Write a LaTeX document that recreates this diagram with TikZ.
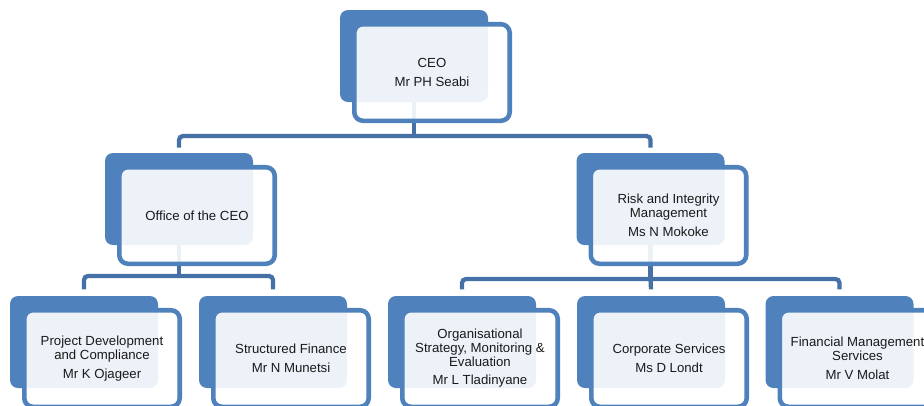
\documentclass[tikz,border=0pt]{standalone}
\usepackage{fontspec}
\setmainfont{Liberation Sans}
\usepackage{xcolor}
\usetikzlibrary{positioning, backgrounds}

\definecolor{boxblue}{HTML}{4F81BD}
\definecolor{linkblue}{HTML}{4571A8}
\definecolor{textgrey}{HTML}{1A1A1A}

\begin{document}
\begin{tikzpicture}[
    x=0.75pt, y=-0.75pt,
    back/.style={rectangle, rounded corners=6pt, fill=boxblue, minimum width=111pt, minimum height=69pt},
    front/.style={rectangle, rounded corners=6.5pt, draw=boxblue, line width=3.4pt, fill=white, fill opacity=0.9, text opacity=1,
                  minimum width=116.6pt, minimum height=72.4pt, align=center, text=textgrey,
                  font=\fontsize{9.9pt}{10.2pt}\selectfont},
    link/.style={draw=linkblue, line width=3.2pt, rounded corners=3pt}
]
    \useasboundingbox (0,0) rectangle (924,405);

    % CEO
    \node[back] (ceoback) at (414,56) {};
    \node[front] (ceo) at ([shift={(18,16.5)}]ceoback.center) {CEO\\[4pt]Mr PH Seabi};

    % Second level
    \node[back] (officeback) at (179,199) {};
    \node[front] (office) at ([shift={(18,16.5)}]officeback.center) {Office of the CEO};

    \node[back] (riskback) at (650.5,199) {};
    \node[front] (risk) at ([shift={(18,16.5)}]riskback.center) {Risk and Integrity\\Management\\[4pt]Ms N Mokoke};

    % Third level
    \node[back] (projback) at (84,342) {};
    \node[front] (proj) at ([shift={(18,16.5)}]projback.center) {Project Development\\and Compliance\\[4pt]Mr K Ojageer};

    \node[back] (sfback) at (273,342) {};
    \node[front] (sf) at ([shift={(18,16.5)}]sfback.center) {Structured Finance\\[4pt]Mr N Munetsi};

    \node[back] (osmeback) at (462,342) {};
    \node[front] (osme) at ([shift={(18,16.5)}]osmeback.center) {Organisational\\Strategy, Monitoring \&\\Evaluation\\[4pt]Mr L Tladinyane};

    \node[back] (corpback) at (651,342) {};
    \node[front] (corp) at ([shift={(18,16.5)}]corpback.center) {Corporate Services\\[4pt]Ms D Londt};

    \node[back] (fmsback) at (839.5,342) {};
    \node[front] (fms) at ([shift={(18,16.5)}]fmsback.center) {Financial Management\\Services\\[4pt]Mr V Molat};

    % Connections
    \coordinate (topbus) at (414,136);
    \coordinate (leftbus) at (179,276);
    \coordinate (rightbus) at (650.5,279);
    \begin{scope}[on background layer]
        \draw[link] (ceoback) -- (topbus);
        \draw[link] ([yshift=3.8pt]officeback.north) |- (topbus) -| ([yshift=3.8pt]riskback.north);
        \draw[link] (officeback) -- (leftbus);
        \draw[link] ([yshift=4.8pt]projback.north) |- (leftbus) -| ([yshift=4.8pt]sfback.north);
        \draw[link] (riskback) -- (rightbus);
        \draw[link] ([yshift=4.8pt]osmeback.north) |- (rightbus) -| ([yshift=4.8pt]fmsback.north);
        \draw[link] (rightbus) -- ([yshift=4.8pt]corpback.north);
    \end{scope}
\end{tikzpicture}
\end{document}
